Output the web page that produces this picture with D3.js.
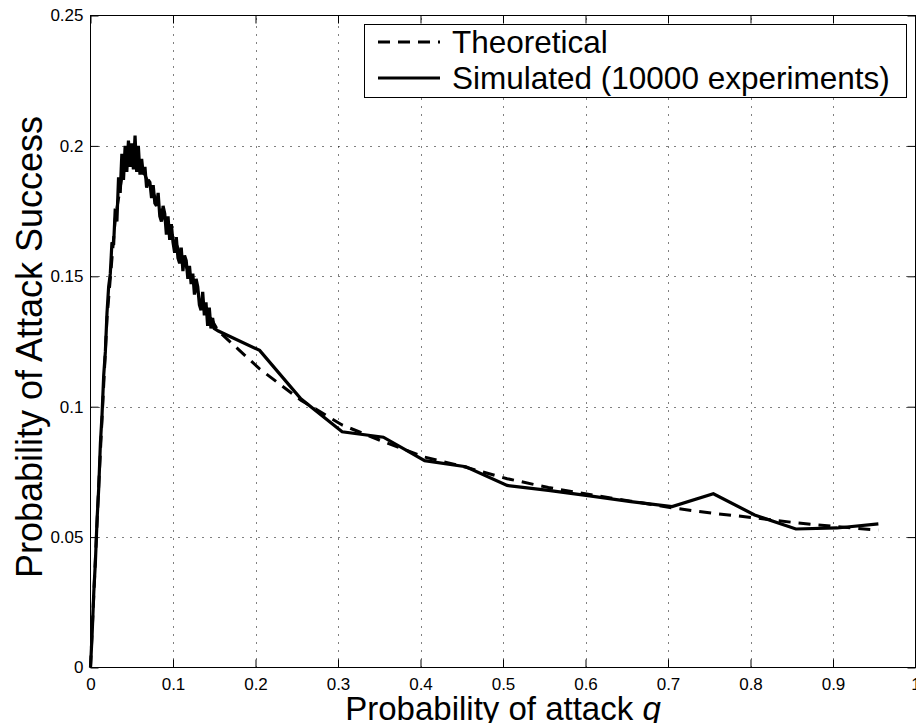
<!DOCTYPE html>
<html>
<head>
<meta charset="utf-8">
<script src="https://cdn.jsdelivr.net/npm/d3@7"></script>
<style>
  body { margin: 0; background: #fff; }
  svg text { font-family: "Liberation Sans", Arial, Helvetica, sans-serif; fill: #000; }
</style>
</head>
<body>
<div id="chart"></div>
<script>
// simulated: dense sweep up to q=0.15, then every 0.05
const simQ = [
  0, 0.002, 0.004, 0.006, 0.008, 0.010, 0.012, 0.014, 0.016, 0.018,
  0.020, 0.022, 0.024, 0.026, 0.028, 0.030, 0.032, 0.034, 0.036, 0.038,
  0.040, 0.042, 0.044, 0.046, 0.048, 0.050, 0.052, 0.054, 0.056, 0.058,
  0.060, 0.062, 0.064, 0.066, 0.068, 0.070, 0.072, 0.074, 0.076, 0.078,
  0.080, 0.082, 0.084, 0.086, 0.088, 0.090, 0.092, 0.094, 0.096, 0.098,
  0.100, 0.102, 0.104, 0.106, 0.108, 0.110, 0.112, 0.114, 0.116, 0.118,
  0.120, 0.122, 0.124, 0.126, 0.128, 0.130, 0.132, 0.134, 0.136, 0.138,
  0.140, 0.142, 0.144, 0.146, 0.148, 0.150,
  0.155, 0.205, 0.255, 0.305, 0.355, 0.405, 0.455, 0.505, 0.555,
  0.605, 0.655, 0.705, 0.755, 0.805, 0.855, 0.905, 0.955
];
const simP = [
  0, 0.013, 0.029, 0.041, 0.057, 0.069, 0.086, 0.097, 0.112, 0.121,
  0.136, 0.146, 0.151, 0.163, 0.162, 0.176, 0.171, 0.188, 0.182, 0.197,
  0.187, 0.200, 0.190, 0.202, 0.192, 0.201, 0.191, 0.204, 0.190, 0.200,
  0.189, 0.195, 0.189, 0.192, 0.184, 0.187, 0.186, 0.180, 0.185, 0.178,
  0.177, 0.182, 0.173, 0.171, 0.177, 0.174, 0.166, 0.173, 0.164, 0.170,
  0.163, 0.159, 0.165, 0.157, 0.155, 0.161, 0.152, 0.158, 0.156, 0.149,
  0.154, 0.147, 0.151, 0.143, 0.149, 0.146, 0.139, 0.137, 0.144, 0.135,
  0.140, 0.131, 0.138, 0.130, 0.134, 0.130,
  0.129, 0.1216, 0.103, 0.0904, 0.0883, 0.0793, 0.077, 0.0698, 0.0679,
  0.0658, 0.0636, 0.0617, 0.0666, 0.0585, 0.0531, 0.0535, 0.0551
];

const theoQ = [
  0, 0.01, 0.02, 0.03, 0.04, 0.05, 0.06, 0.08, 0.10, 0.12, 0.14,
  0.155, 0.205, 0.255, 0.305, 0.355, 0.405, 0.455, 0.505, 0.555,
  0.605, 0.655, 0.705, 0.755, 0.805, 0.855, 0.905, 0.955
];
const theoP = [
  0, 0.07, 0.134, 0.172, 0.192, 0.197, 0.193, 0.179, 0.165, 0.151, 0.137,
  0.129, 0.1145, 0.1025, 0.093, 0.0866, 0.0807, 0.0768, 0.0724, 0.069,
  0.0663, 0.0638, 0.0612, 0.0591, 0.0574, 0.0555, 0.054, 0.0527
];

const xTicks = [0, 0.1, 0.2, 0.3, 0.4, 0.5, 0.6, 0.7, 0.8, 0.9, 1];
const xTickLabels = ["0", "0.1", "0.2", "0.3", "0.4", "0.5", "0.6", "0.7", "0.8", "0.9", "1"];
const yTicks = [0, 0.05, 0.1, 0.15, 0.2, 0.25];
const yTickLabels = ["0", "0.05", "0.1", "0.15", "0.2", "0.25"];

const legendLabels = ["Theoretical", "Simulated (10000 experiments)"];

const width = 916, height = 723;
const plotL = 90.5, plotR = 915.5, plotT = 15.5, plotB = 667.5;

const svg = d3.select("#chart")
  .append("svg")
  .attr("width", width)
  .attr("height", height);

const x = d3.scaleLinear().domain([0, 1]).range([plotL, plotR]);
const y = d3.scaleLinear().domain([0, 0.25]).range([plotB, plotT]);

// dotted grid
const grid = svg.append("g")
  .attr("stroke", "#000")
  .attr("stroke-width", 1)
  .attr("stroke-dasharray", "1,7");

grid.selectAll("line.vx")
  .data(xTicks.slice(1, -1))
  .join("line")
  .attr("class", "vx")
  .attr("x1", d => Math.round(x(d)) + 0.5)
  .attr("x2", d => Math.round(x(d)) + 0.5)
  .attr("y1", plotB)
  .attr("y2", plotT);

grid.selectAll("line.hy")
  .data(yTicks.slice(1, -1))
  .join("line")
  .attr("class", "hy")
  .attr("x1", plotL)
  .attr("x2", plotR)
  .attr("y1", d => Math.round(y(d)) + 0.5)
  .attr("y2", d => Math.round(y(d)) + 0.5);

// axes, matlab style ticks pointing inwards
const tickFont = 17;

svg.append("g")
  .attr("transform", `translate(0,${plotB})`)
  .call(d3.axisBottom(x).tickValues(xTicks).tickFormat((d, i) => xTickLabels[i])
    .tickSizeInner(-8).tickSizeOuter(0).tickPadding(10));

svg.append("g")
  .attr("transform", `translate(${plotL},0)`)
  .call(d3.axisLeft(y).tickValues(yTicks).tickFormat((d, i) => yTickLabels[i])
    .tickSizeInner(-8).tickSizeOuter(0).tickPadding(7));

svg.append("g")
  .attr("transform", `translate(0,${plotT})`)
  .call(d3.axisTop(x).tickValues(xTicks).tickFormat("").tickSizeInner(-8).tickSizeOuter(0));

svg.append("g")
  .attr("transform", `translate(${plotR},0)`)
  .call(d3.axisRight(y).tickValues(yTicks).tickFormat("").tickSizeInner(-8).tickSizeOuter(0));

svg.selectAll(".domain").remove();
svg.selectAll(".tick line").attr("stroke", "#000");
svg.selectAll(".tick text")
  .style("font-family", '"Liberation Sans", Arial, sans-serif')
  .attr("font-size", tickFont);

svg.append("rect")
  .attr("x", plotL)
  .attr("y", plotT)
  .attr("width", plotR - plotL)
  .attr("height", plotB - plotT)
  .attr("fill", "none")
  .attr("stroke", "#000")
  .attr("stroke-width", 1);

// data lines
const line = d3.line()
  .x(d => x(d[0]))
  .y(d => y(d[1]));

svg.append("path")
  .datum(theoQ.map((q, i) => [q, theoP[i]]))
  .attr("d", line)
  .attr("fill", "none")
  .attr("stroke", "#000")
  .attr("stroke-width", 3)
  .attr("stroke-dasharray", "12,8");

svg.append("path")
  .datum(simQ.map((q, i) => [q, simP[i]]))
  .attr("d", line)
  .attr("fill", "none")
  .attr("stroke", "#000")
  .attr("stroke-width", 3.2)
  .attr("stroke-linejoin", "miter")
  .attr("stroke-miterlimit", 2);

// axis labels
const xLabel = svg.append("text")
  .attr("x", (plotL + plotR) / 2)
  .attr("y", 720)
  .attr("text-anchor", "middle")
  .attr("font-size", 33);
xLabel.append("tspan").text("Probability of attack ");
xLabel.append("tspan").attr("font-style", "italic").text("q");

svg.append("text")
  .attr("transform", "translate(42,347) rotate(-90)")
  .attr("text-anchor", "middle")
  .attr("font-size", 36)
  .text("Probability of Attack Success");

// legend
const legend = svg.append("g");
legend.append("rect")
  .attr("x", 364.5)
  .attr("y", 24.5)
  .attr("width", 542)
  .attr("height", 73)
  .attr("fill", "#fff")
  .attr("stroke", "#000")
  .attr("stroke-width", 1);

const rows = legend.selectAll("g.row")
  .data(legendLabels)
  .join("g")
  .attr("class", "row")
  .attr("transform", (d, i) => `translate(0,${42 + i * 36})`);

rows.append("line")
  .attr("x1", 378)
  .attr("x2", 440)
  .attr("stroke", "#000")
  .attr("stroke-width", 3)
  .attr("stroke-dasharray", (d, i) => i === 0 ? "12,8" : null);

rows.append("text")
  .attr("x", 452)
  .attr("dy", "0.36em")
  .attr("font-size", 31.5)
  .text(d => d);
</script>
</body>
</html>
